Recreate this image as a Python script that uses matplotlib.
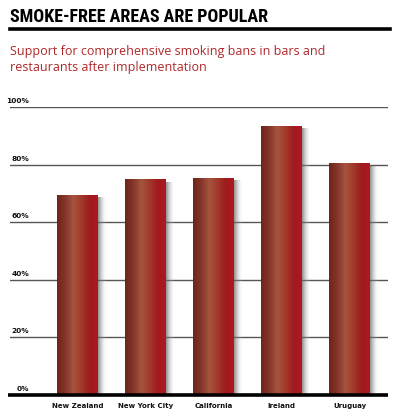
import matplotlib
matplotlib.use("Agg")
import matplotlib.pyplot as plt
import numpy as np
from matplotlib.colors import LinearSegmentedColormap
from matplotlib.patches import Rectangle

countries = ["New Zealand", "New York City", "California", "Ireland", "Uruguay"]
support = [69.5, 75, 75.5, 93.5, 80.5]
ticks = [0, 20, 40, 60, 80, 100]
tick_labels = ["0%", "20%", "40%", "60%", "80%", "100%"]

W, H = 400, 417
fig = plt.figure(figsize=(W / 100, H / 100), dpi=100)

# axes placed in pixel terms of the reference
ax = fig.add_axes([10 / W, (H - 395) / H, 378 / W, (395 - 107.3) / H])
ax.set_xlim(-0.99, 4.56)
ax.set_ylim(0, 100)
ax.axis("off")

for t, lab in zip(ticks, tick_labels):
    if t > 0:
        ax.axhline(t, color="#555555", lw=1.0, zorder=1)
    ax.annotate(lab, (-0.99, t), xytext=(13.7, 2.2), textcoords="offset points",
                ha="right", va="bottom", fontsize=5.3, fontweight="bold", color="#111111")

bar_cmap = LinearSegmentedColormap.from_list(
    "bar", ["#6e2519", "#86352a", "#a5553f", "#a23a2c", "#9e1a1e", "#b01820"])
shadow_cmap = LinearSegmentedColormap.from_list(
    "shadow", [(0.35, 0.35, 0.35, 0.7), (0.6, 0.6, 0.6, 0.3), (1, 1, 1, 0)])

width = 0.6
grad = np.linspace(0, 1, 256).reshape(1, -1)
sgrad = np.linspace(0, 1, 64).reshape(1, -1)
for i, v in enumerate(support):
    x0 = i - width / 2
    # soft shadow to the right
    ax.imshow(sgrad, cmap=shadow_cmap, extent=(x0 + width, x0 + width + 0.13, 0, v - 1.0),
              aspect="auto", zorder=2, interpolation="bicubic")
    rect = Rectangle((x0, 0), width, v, facecolor="none", edgecolor="none", zorder=3)
    ax.add_patch(rect)
    im = ax.imshow(grad, cmap=bar_cmap, extent=(x0, x0 + width, 0, v),
                   aspect="auto", zorder=3, interpolation="bicubic")
    im.set_clip_path(rect)
    ax.text(i, -2.7, countries[i], ha="center", va="top", fontsize=5,
            fontweight="bold", color="#111111")

ax.set_xlim(-0.99, 4.56)
ax.set_ylim(0, 100)
ax.plot([-1.02, 4.56], [0, 0], color="black", lw=2.6, zorder=4, solid_capstyle="butt", clip_on=False)

fig.text(10 / W, 1 - 22.5 / H, "SMOKE-FREE AREAS ARE POPULAR", ha="left", va="baseline",
         fontsize=13, fontweight="bold", color="black",
         family=["Liberation Sans Narrow", "Roboto Condensed", "Roboto"])
fig.add_artist(plt.Line2D([10 / W, 390 / W], [1 - 29 / H, 1 - 29 / H], color="black", lw=2.6))
fig.text(10 / W, 1 - 45 / H, "Support for comprehensive smoking bans in bars and\nrestaurants after implementation",
         ha="left", va="top", fontsize=9, color="#b0282a", family="Open Sans", linespacing=1.35)

fig.savefig("out.png", dpi=100)
